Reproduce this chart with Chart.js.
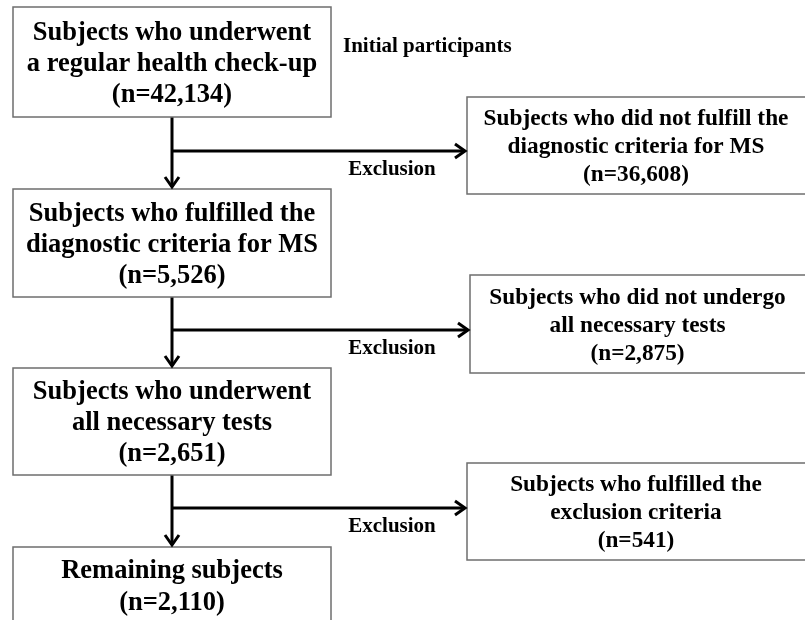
<!DOCTYPE html>
<html>
<head>
<meta charset="utf-8">
<title>Flow of study participants</title>
<script src="https://cdn.jsdelivr.net/npm/chart.js@4.4.1/dist/chart.umd.min.js"></script>
<style>
    html, body { margin: 0; padding: 0; background: #ffffff; overflow: hidden; }
    canvas { display: block; }
</style>
</head>
<body>
<canvas id="flow-chart" width="805" height="620"></canvas>
<script>
// Text and counts of the flow diagram
const mainLabels = [
    ['Subjects who underwent', 'a regular health check-up'],
    ['Subjects who fulfilled the', 'diagnostic criteria for MS'],
    ['Subjects who underwent', 'all necessary tests'],
    ['Remaining subjects']
];
const mainCounts = [42134, 5526, 2651, 2110];

const excludedLabels = [
    ['Subjects who did not fulfill the', 'diagnostic criteria for MS'],
    ['Subjects who did not undergo', 'all necessary tests'],
    ['Subjects who fulfilled the', 'exclusion criteria']
];
const excludedCounts = [36608, 2875, 541];

const stepLabel = 'Exclusion';
const headerLabel = 'Initial participants';

// Layout of the diagram, in scale units (0..805 across, 0..620 down)
const mainBoxX = [13, 331];
const mainBoxY = [[7, 117], [189, 297], [368, 475], [547, 624]];
const sideBoxX = [[467, 810], [470, 810], [467, 810]];
const sideBoxY = [[97, 194], [275, 373], [463, 560]];
const branchY = [151, 330, 508];
const spineX = 172;

const FONT = '"Liberation Serif", "Times New Roman", Times, serif';

function fmt(n) {
    return '(n=' + n.toLocaleString('en-US') + ')';
}

// Connector lines built from the layout: spine segments and exclusion branches
const connectorSets = [];
for (let i = 0; i < mainBoxY.length - 1; i++) {
    connectorSets.push({
        data: [{ x: spineX, y: mainBoxY[i][1] }, { x: spineX, y: mainBoxY[i + 1][0] - 2 }],
        arrow: 'down'
    });
    connectorSets.push({
        data: [{ x: spineX, y: branchY[i] }, { x: sideBoxX[i][0] - 2, y: branchY[i] }],
        arrow: 'right'
    });
}

const flowPlugin = {
    id: 'flowBoxes',
    afterDatasetsDraw(chart) {
        const ctx = chart.ctx;
        const xs = chart.scales.x;
        const ys = chart.scales.y;
        const px = v => xs.getPixelForValue(v);
        const py = v => ys.getPixelForValue(v);

        function box(x0, x1, y0, y1) {
            ctx.save();
            ctx.fillStyle = '#ffffff';
            ctx.strokeStyle = '#6e6e6e';
            ctx.lineWidth = 1.5;
            ctx.fillRect(px(x0), py(y0), px(x1) - px(x0), py(y1) - py(y0));
            ctx.strokeRect(px(x0), py(y0), px(x1) - px(x0), py(y1) - py(y0));
            ctx.restore();
        }

        function textBlock(lines, cx, y0, y1, size, lh) {
            const cap = size * 0.662;
            const center = (py(y0) + py(y1)) / 2;
            const blockH = cap + lh * (lines.length - 1);
            let b = center - blockH / 2 + cap;
            ctx.save();
            ctx.fillStyle = '#000000';
            ctx.font = 'bold ' + size + 'px ' + FONT;
            ctx.textAlign = 'center';
            ctx.textBaseline = 'alphabetic';
            lines.forEach(t => {
                ctx.fillText(t, cx, b);
                b += lh;
            });
            ctx.restore();
        }

        // main column
        mainLabels.forEach((lines, i) => {
            const [y0, y1] = mainBoxY[i];
            box(mainBoxX[0], mainBoxX[1], y0, y1);
            const cx = (px(mainBoxX[0]) + px(mainBoxX[1])) / 2;
            textBlock(lines.concat([fmt(mainCounts[i])]), cx, y0, y1, 26.5, lines.length > 1 ? 31 : 32);
        });

        // excluded column
        excludedLabels.forEach((lines, i) => {
            const [y0, y1] = sideBoxY[i];
            box(sideBoxX[i][0], sideBoxX[i][1], y0, y1);
            const cx = (px(sideBoxX[i][0]) + px(805)) / 2;
            textBlock(lines.concat([fmt(excludedCounts[i])]), cx, y0, y1, 23.3, 28);
        });

        // labels
        ctx.save();
        ctx.fillStyle = '#000000';
        ctx.font = 'bold 21px ' + FONT;
        ctx.textBaseline = 'alphabetic';
        ctx.textAlign = 'left';
        ctx.fillText(headerLabel, px(343), py(52));
        ctx.textAlign = 'center';
        branchY.forEach(y => ctx.fillText(stepLabel, px(392), py(y + 24)));
        ctx.restore();

        // arrowheads
        ctx.save();
        ctx.strokeStyle = '#000000';
        ctx.lineWidth = 3;
        ctx.lineCap = 'butt';
        ctx.lineJoin = 'miter';
        chart.data.datasets.forEach((ds, i) => {
            const end = ds.data[ds.data.length - 1];
            const tx = px(end.x), ty = py(end.y);
            ctx.beginPath();
            if (ds.arrow === 'down') {
                ctx.moveTo(tx - 7, ty - 10);
                ctx.lineTo(tx, ty);
                ctx.lineTo(tx + 7, ty - 10);
            } else {
                ctx.moveTo(tx - 10, ty - 7);
                ctx.lineTo(tx, ty);
                ctx.lineTo(tx - 10, ty + 7);
            }
            ctx.stroke();
        });
        ctx.restore();
    }
};

const ctx = document.getElementById('flow-chart').getContext('2d');
new Chart(ctx, {
    type: 'scatter',
    data: {
        datasets: connectorSets.map(c => ({
            data: c.data,
            arrow: c.arrow,
            showLine: true,
            borderColor: '#000000',
            borderWidth: 3,
            pointRadius: 0,
            pointHoverRadius: 0,
            tension: 0
        }))
    },
    options: {
        responsive: false,
        animation: false,
        devicePixelRatio: 1,
        layout: { padding: 0 },
        events: [],
        plugins: {
            legend: { display: false },
            tooltip: { enabled: false }
        },
        scales: {
            x: { type: 'linear', min: 0, max: 805, display: false },
            y: { type: 'linear', min: 0, max: 620, reverse: true, display: false }
        }
    },
    plugins: [flowPlugin]
});
</script>
</body>
</html>
